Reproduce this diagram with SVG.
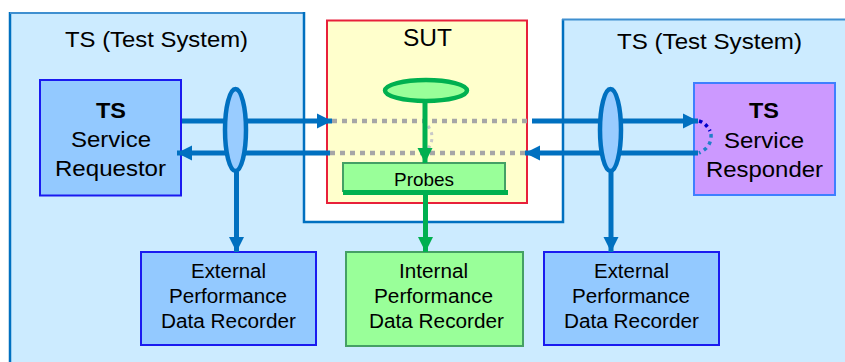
<svg xmlns="http://www.w3.org/2000/svg" width="845" height="362" viewBox="0 0 845 362">
  <defs>
    <marker id="arrBlue" markerUnits="userSpaceOnUse" markerWidth="16" markerHeight="16" viewBox="0 0 16 16" refX="15" refY="8" orient="auto">
      <path d="M0,0.5 L15,8 L0,15.5 Z" fill="#0070C0"/>
    </marker>
    <marker id="arrGreen" markerUnits="userSpaceOnUse" markerWidth="16" markerHeight="16" viewBox="0 0 16 16" refX="15" refY="8" orient="auto">
      <path d="M0,0.5 L15,8 L0,15.5 Z" fill="#00B050"/>
    </marker>
  </defs>
  <style>
    text { font-family: "Liberation Sans", Arial, sans-serif; fill: #000; text-anchor: middle; }
    .title { font-size: 21.5px; }
    .big { font-size: 22px; }
    .bold { font-weight: bold; }
    .rec { font-size: 19.5px; }
    .edge { stroke: #0070C0; stroke-width: 2.5; fill: none; }
    .flow { stroke: #0070C0; stroke-width: 5; fill: none; }
    .tap { stroke: #0070C0; stroke-width: 4.5; fill: #99CCFF; }
    .gflow { stroke: #00B050; stroke-width: 5; fill: none; }
    .dots { stroke: #A6A6A6; stroke-width: 4.5; stroke-dasharray: 5 5; fill: none; }
    .extbox { fill: #93C9FF; stroke: #1A1AF0; stroke-width: 2; }
    .intbox { fill: #99FF99; stroke: #45A065; stroke-width: 2; }
  </style>

  <!-- Test system area with the white cut-out around the SUT -->
  <g id="test-system-area">
    <path d="M10,13 H304 V222 H562 V19 H845 V362 H10 Z" fill="#CCEBFF"/>
    <path class="edge" d="M10,362 V12"/>
    <path d="M10,13 H304" stroke="#3F8FD0" stroke-width="2" fill="none"/>
    <path class="edge" d="M304,12 V222 H563 V19"/>
    <path d="M562,19.5 H845" stroke="#3F8FD0" stroke-width="2" fill="none"/>
    <text class="title" x="156.5" y="47" textLength="183" lengthAdjust="spacingAndGlyphs">TS (Test System)</text>
    <text class="title" x="709.5" y="49" textLength="185" lengthAdjust="spacingAndGlyphs">TS (Test System)</text>
  </g>

  <!-- System under test -->
  <g id="sut">
    <rect x="327" y="20.5" width="200" height="182.5" fill="#FFFFCC" stroke="#E8203A" stroke-width="2"/>
    <text x="427.5" y="46" style="font-size:23px" textLength="49" lengthAdjust="spacingAndGlyphs">SUT</text>
  </g>

  <g id="internal-tap">
    <ellipse cx="426" cy="90.5" rx="41" ry="10.5" fill="#99FF99" stroke="#00B050" stroke-width="4.5"/>
  </g>

  <g id="probes">
    <rect x="343" y="163" width="162" height="28" class="intbox" stroke-width="1.5"/>
    <rect x="343" y="190" width="165" height="5" fill="#00B050"/>
    <text x="424" y="186" style="font-size:19px" textLength="60" lengthAdjust="spacingAndGlyphs">Probes</text>
  </g>

  <g id="requestor">
    <rect x="40" y="80" width="141" height="115.5" fill="#93C9FF" stroke="#1A1AF0" stroke-width="2"/>
    <text class="big bold" x="111" y="118" textLength="30" lengthAdjust="spacingAndGlyphs">TS</text>
    <text class="big" x="111" y="147" textLength="80" lengthAdjust="spacingAndGlyphs">Service</text>
    <text class="big" x="110.5" y="176" textLength="111" lengthAdjust="spacingAndGlyphs">Requestor</text>
  </g>

  <g id="responder">
    <rect x="694" y="83" width="141" height="112" fill="#CC99FF" stroke="#3F7FFF" stroke-width="2"/>
    <text class="big bold" x="764" y="118" textLength="30" lengthAdjust="spacingAndGlyphs">TS</text>
    <text class="big" x="764" y="148" textLength="80" lengthAdjust="spacingAndGlyphs">Service</text>
    <text class="big" x="764.5" y="177" textLength="117" lengthAdjust="spacingAndGlyphs">Responder</text>
  </g>

  <g id="external-recorder-left">
    <rect x="141" y="252" width="175" height="93" class="extbox"/>
    <text class="rec" x="228.5" y="278" textLength="75" lengthAdjust="spacingAndGlyphs">External</text>
    <text class="rec" x="228" y="303" textLength="118" lengthAdjust="spacingAndGlyphs">Performance</text>
    <text class="rec" x="228.5" y="328" textLength="135" lengthAdjust="spacingAndGlyphs">Data Recorder</text>
  </g>

  <g id="internal-recorder">
    <rect x="346" y="252" width="177" height="94" class="intbox"/>
    <text class="rec" x="433.5" y="278" textLength="69" lengthAdjust="spacingAndGlyphs">Internal</text>
    <text class="rec" x="433.5" y="303" textLength="119" lengthAdjust="spacingAndGlyphs">Performance</text>
    <text class="rec" x="436.5" y="328" textLength="135" lengthAdjust="spacingAndGlyphs">Data Recorder</text>
  </g>

  <g id="external-recorder-right">
    <rect x="544" y="252" width="175" height="93" class="extbox"/>
    <text class="rec" x="631.5" y="278" textLength="75" lengthAdjust="spacingAndGlyphs">External</text>
    <text class="rec" x="631" y="303" textLength="118" lengthAdjust="spacingAndGlyphs">Performance</text>
    <text class="rec" x="631.5" y="328" textLength="135" lengthAdjust="spacingAndGlyphs">Data Recorder</text>
  </g>

  <g id="connectors">
    <!-- request / response path through the SUT -->
    <path class="dots" d="M332,121 H530"/>
    <path class="dots" d="M330,153 H526"/>
    <path d="M428,126 Q436,137 428,149" stroke="#C8C8C8" stroke-width="3" stroke-dasharray="3 4" fill="none"/>

    <path class="flow" d="M182,121 H332" marker-end="url(#arrBlue)"/>
    <path class="flow" d="M330,153 H177" marker-end="url(#arrBlue)"/>
    <path class="flow" d="M532,121 H698" marker-end="url(#arrBlue)"/>
    <path class="flow" d="M698,153 H525" marker-end="url(#arrBlue)"/>

    <!-- turnaround inside the responder -->
    <path d="M699,121 Q706,123 710,131" stroke="#0000CC" stroke-width="3.5" stroke-dasharray="3.5 3.5" fill="none"/>
    <path d="M711,134 Q712,147 699,153" stroke="#1F7FC8" stroke-width="3.5" stroke-dasharray="3.5 4" fill="none"/>

    <!-- external taps -->
    <path class="flow" d="M236.5,172 V252" marker-end="url(#arrBlue)"/>
    <ellipse class="tap" cx="235.5" cy="130" rx="10.5" ry="41"/>
    <path class="flow" d="M611,172 V252" marker-end="url(#arrBlue)"/>
    <ellipse class="tap" cx="610.5" cy="130" rx="10.5" ry="41"/>

    <!-- internal measurement path -->
    <path class="gflow" d="M425,102 V163" marker-end="url(#arrGreen)"/>
    <path class="gflow" d="M425.5,195 V252" marker-end="url(#arrGreen)"/>
  </g>
</svg>
